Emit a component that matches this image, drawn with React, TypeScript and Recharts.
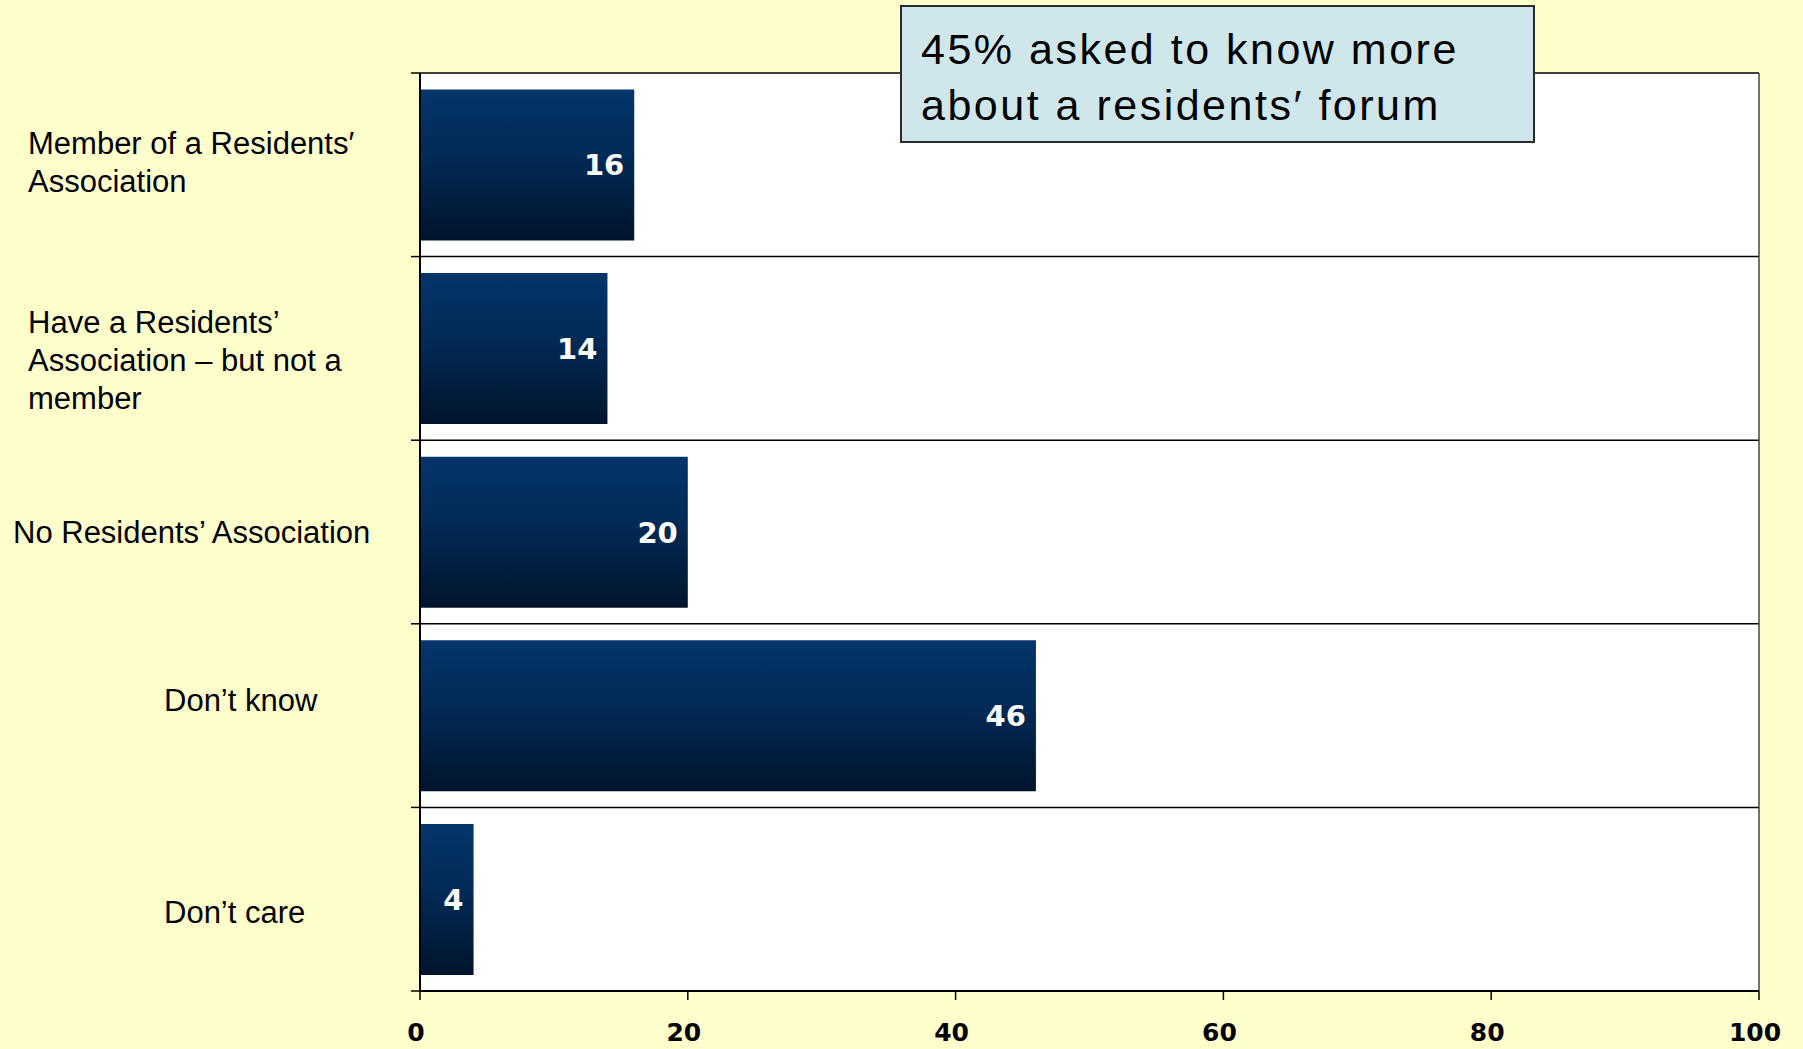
import React from "react";
import {
  BarChart,
  Bar,
  XAxis,
  YAxis,
  CartesianGrid,
  ReferenceLine,
  LabelList,
} from "recharts";

const categories = [
  "Member of a Residents′\nAssociation",
  "Have a Residents’\nAssociation – but not a\nmember",
  "No Residents’ Association",
  "Don’t know",
  "Don’t care",
];
const values = [16, 14, 20, 46, 4];
const xTicks = [0, 20, 40, 60, 80, 100];
const note = ["45% asked to know more", "about a residents′ forum"];

const chartData = categories.map((name, i) => ({ name, value: values[i] }));

// text boxes in the original slide are not aligned the same way
const labelX = [28, 28, 13, 164, 164];
const labelDy = [-3, 12, 0, -16, 13];

const CategoryTick = (props: any) => {
  const { x, y, payload, index, height, visibleTicksCount } = props;
  const lines = String(payload.value).split("\n");
  const lh = 38;
  const startY = y + labelDy[index] - ((lines.length - 1) * lh) / 2;
  const half = Number(height) / visibleTicksCount / 2;
  return (
    <g>
      <line x1={x - 9} x2={x} y1={y - half} y2={y - half} stroke="#000" strokeWidth={1.5} />
      {index === visibleTicksCount - 1 && (
        <line x1={x - 9} x2={x} y1={y + half} y2={y + half} stroke="#000" strokeWidth={1.5} />
      )}
      <text
        x={labelX[index]}
        y={startY}
        fontFamily="'Liberation Sans', Arial, sans-serif"
        fontSize={31}
        fill="#000"
        textAnchor="start"
        dominantBaseline="central"
      >
        {lines.map((l, i) => (
          <tspan key={i} x={labelX[index]} y={startY + i * lh}>
            {l}
          </tspan>
        ))}
      </text>
    </g>
  );
};

// grid lines sit on the band edges, not the band centres
const edgeLines = ({ offset }: any) =>
  categories
    .concat([""])
    .map((_, i) => offset.top + (i * offset.height) / categories.length);

const App: React.FC = () => {
  return (
    <div
      style={{
        position: "absolute",
        left: 0,
        top: 0,
        width: 1803,
        height: 1049,
        background: "#ffffcc",
        overflow: "hidden",
      }}
    >
      <BarChart
        width={1803}
        height={1049}
        data={chartData}
        layout="vertical"
        barCategoryGap="9%"
        margin={{ top: 73, right: 44, bottom: 0, left: 0 }}
      >
        <defs>
          <linearGradient id="barFill" x1="0" y1="0" x2="0" y2="1">
            <stop offset="0%" stopColor="#04356b" />
            <stop offset="45%" stopColor="#022a55" />
            <stop offset="100%" stopColor="#01142c" />
          </linearGradient>
        </defs>
        <CartesianGrid
          vertical={false}
          horizontalCoordinatesGenerator={edgeLines}
          fill="#ffffff"
          stroke="#000"
          strokeWidth={1.5}
        />
        <XAxis
          type="number"
          domain={[0, 100]}
          ticks={xTicks}
          height={58}
          axisLine={{ stroke: "#000", strokeWidth: 2 }}
          tickLine={{ stroke: "#000", strokeWidth: 1.5 }}
          tickSize={9}
          tickMargin={23}
          tick={{
            fill: "#000",
            fontSize: 25,
            fontWeight: "bold",
            fontFamily: "'DejaVu Sans', Verdana, sans-serif",
            dx: -4,
          }}
        />
        <YAxis
          type="category"
          dataKey="name"
          width={420}
          axisLine={{ stroke: "#000", strokeWidth: 2 }}
          tickLine={false}
          tickSize={0}
          tickMargin={0}
          tick={<CategoryTick />}
          interval={0}
        />
        <ReferenceLine x={100} stroke="#444" strokeWidth={1.5} />
        <Bar dataKey="value" fill="url(#barFill)" isAnimationActive={false}>
          <LabelList
            dataKey="value"
            position="insideRight"
            offset={10}
            fill="#fff"
            fontSize={29}
            fontWeight="bold"
            fontFamily="'DejaVu Sans', Verdana, sans-serif"
          />
        </Bar>
      </BarChart>
      <div
        style={{
          position: "absolute",
          left: 900,
          top: 5,
          width: 635,
          height: 138,
          boxSizing: "border-box",
          background: "#cfe7ea",
          border: "2px solid #2a2a2a",
          padding: "14px 0 0 19px",
          fontFamily: "'Liberation Sans', Arial, sans-serif",
          fontSize: 43,
          letterSpacing: 2.5,
          lineHeight: "56px",
          color: "#000",
          whiteSpace: "nowrap",
        }}
      >
        {note.map((t, i) => (
          <div key={i}>{t}</div>
        ))}
      </div>
    </div>
  );
};

export default App;
